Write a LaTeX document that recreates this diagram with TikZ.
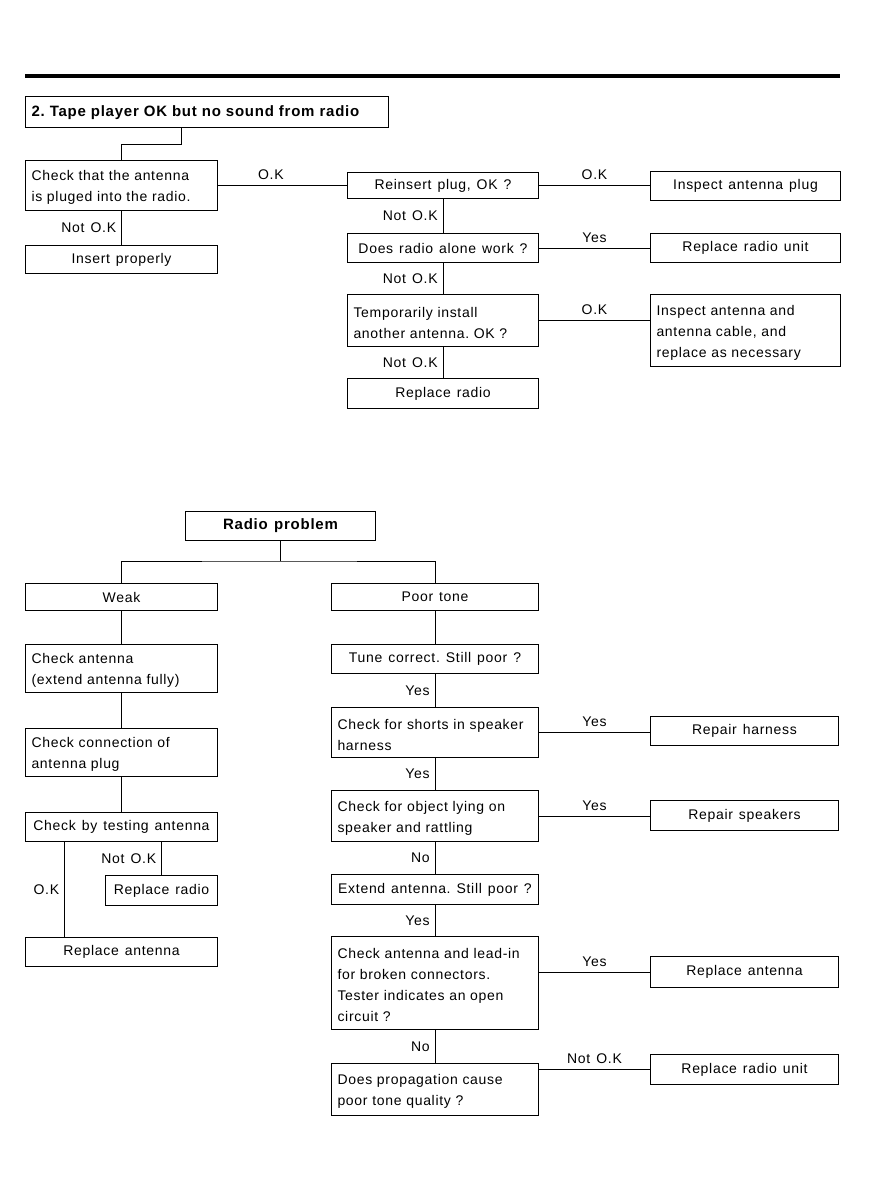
\documentclass[tikz,border=0pt]{standalone}
\usepackage{fontspec}
\setmainfont{Liberation Sans}[LetterSpace=5, WordSpace=1.3]
\usepackage{tikz}
\frenchspacing

\begin{document}
\begin{tikzpicture} %Radio trouble charts
      [
      x=1pt, y=-1pt,
      box/.style={draw, line width=1pt, anchor=north west, inner xsep=6pt, inner ysep=0pt, font=\fontsize{14}{21}\selectfont},
      lbox/.style={box, execute at begin node={\raggedright\strut}},
      link/.style={line width=0.8pt},
      tag/.style={font=\fontsize{14}{16}\selectfont, inner sep=5pt}
      ]
      \useasboundingbox (0,0) rectangle (876,1197);
      \draw[line width=4.5pt] (25,76) -- (840,76);
      % tape player OK, no sound
      \node[lbox, text width=351pt, minimum height=31pt, font=\fontsize{15}{21}\selectfont\bfseries] (title) at (25,96) {2. Tape player OK but no sound from radio};
      \node[lbox, text width=180pt, minimum height=50pt] (chk) at (25,160) {Check that the antenna\\is pluged into the radio.};
      \node[box, minimum width=192pt, minimum height=28pt] (ins) at (25,245) {Insert properly};
      \node[box, minimum width=191pt, minimum height=26pt] (rein) at (347,172) {Reinsert plug, OK ?};
      \node[box, minimum width=190pt, minimum height=29pt] (iap) at (650,171) {Inspect antenna plug};
      \node[box, minimum width=191pt, minimum height=29pt] (alone) at (347,233) {Does radio alone work ?};
      \node[box, minimum width=190pt, minimum height=29pt] (rru) at (650,233) {Replace radio unit};
      \node[lbox, text width=179pt, minimum height=52pt] (temp) at (347,294) {Temporarily install\\another antenna. OK ?};
      \node[lbox, text width=178pt, minimum height=72pt] (iaac) at (650,294) {Inspect antenna and\\antenna cable, and\\replace as necessary};
      \node[box, minimum width=191pt, minimum height=30pt] (rr) at (347,378) {Replace radio};

      \draw[link] ([xshift=-25.5pt]title.south) -- ++(0,16) -| (chk.north);
      \draw[link] (chk.east) -- node[tag, above, pos=0.41] {O.K} (chk.east -| rein.west);
      \draw[link] (rein.east) -- node[tag, above] {O.K} (rein.east -| iap.west);
      \draw[link] (chk.south) -- node[tag, left] {Not O.K} (ins.north);
      \draw[link] (rein.south) -- node[tag, left] {Not O.K} (alone.north);
      \draw[link] (alone.east) -- node[tag, above] {Yes} (alone.east -| rru.west);
      \draw[link] (alone.south) -- node[tag, left] {Not O.K} (temp.north);
      \draw[link] (temp.east) -- node[tag, above] {O.K} (temp.east -| iaac.west);
      \draw[link] (temp.south) -- node[tag, left] {Not O.K} (rr.north);

      % radio problem
      \node[box, minimum width=190pt, minimum height=29pt, font=\fontsize{15}{21}\selectfont\bfseries] (rp) at (185,511) {Radio problem};
      \node[box, minimum width=192pt, minimum height=27pt] (weak) at (25,583) {Weak};
      \node[box, minimum width=207pt, minimum height=27pt] (poor) at (331,583) {Poor tone};
      \node[lbox, text width=180pt, minimum height=48pt] (ca) at (25,644) {Check antenna\\(extend antenna fully)};
      \node[lbox, text width=180pt, minimum height=48pt] (cc) at (25,728) {Check connection of\\antenna plug};
      \node[box, minimum width=192pt, minimum height=29pt] (cbt) at (25,812) {Check by testing antenna};
      \node[box, minimum width=112pt, minimum height=30pt] (rrl) at (105,875) {Replace radio};
      \node[box, minimum width=192pt, minimum height=29pt] (ral) at (25,937) {Replace antenna};
      \node[box, minimum width=207pt, minimum height=29pt] (tune) at (331,644) {Tune correct. Still poor ?};
      \node[lbox, text width=195pt, minimum height=50pt] (shorts) at (331,707) {Check for shorts in speaker\\harness};
      \node[box, minimum width=188pt, minimum height=29pt] (rh) at (650,716) {Repair harness};
      \node[lbox, text width=195pt, minimum height=51pt] (obj) at (331,790) {Check for object lying on\\speaker and rattling};
      \node[box, minimum width=188pt, minimum height=30pt] (rs) at (650,800) {Repair speakers};
      \node[box, minimum width=207pt, minimum height=30pt] (ext) at (331,874) {Extend antenna. Still poor ?};
      \node[lbox, text width=195pt, minimum height=93pt] (lead) at (331,936) {Check antenna and lead-in\\for broken connectors.\\Tester indicates an open\\circuit ?};
      \node[box, minimum width=188pt, minimum height=31pt] (rar) at (650,956) {Replace antenna};
      \node[lbox, text width=195pt, minimum height=52pt] (prop) at (331,1063) {Does propagation cause\\poor tone quality ?};
      \node[box, minimum width=188pt, minimum height=30pt] (rru2) at (650,1054) {Replace radio unit};

      \draw[link] (rp.south) -- ++(0,20) coordinate (fork);
      \draw[link] (weak.north) |- (fork) -| (poor.north);
      \draw[link] (weak.south) -- (ca.north);
      \draw[link] (ca.south) -- (cc.north);
      \draw[link] (cc.south) -- (cbt.north);
      \draw[link] ([xshift=-57pt]cbt.south) -- node[tag, left] {O.K} ([xshift=-57pt]ral.north);
      \draw[link] (cbt.south -| rrl.north) -- node[tag, left] {Not O.K} (rrl.north);
      \draw[link] (poor.south) -- (tune.north);
      \draw[link] (tune.south) -- node[tag, left] {Yes} (shorts.north);
      \draw[link] (shorts.east) -- node[tag, above] {Yes} (shorts.east -| rh.west);
      \draw[link] (shorts.south) -- node[tag, left] {Yes} (obj.north);
      \draw[link] (obj.east) -- node[tag, above] {Yes} (obj.east -| rs.west);
      \draw[link] (obj.south) -- node[tag, left] {No} (ext.north);
      \draw[link] (ext.south) -- node[tag, left] {Yes} (lead.north);
      \draw[link] (rar.west -| lead.east) -- node[tag, above] {Yes} (rar.west);
      \draw[link] (lead.south) -- node[tag, left] {No} (prop.north);
      \draw[link] (rru2.west -| prop.east) -- node[tag, above] {Not O.K} (rru2.west);
\end{tikzpicture}
\end{document}
